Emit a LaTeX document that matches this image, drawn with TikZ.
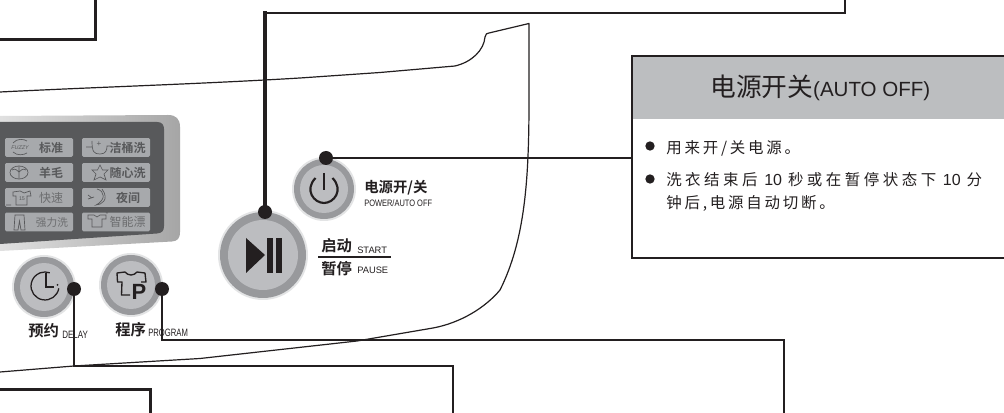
\documentclass[tikz,border=0pt]{standalone}
\usepackage{fontspec}
\setmainfont{Liberation Sans}
\newfontfamily\cjk{Noto Sans CJK SC}
\newfontfamily\cjksp[LetterSpace=18]{Noto Sans CJK SC}
\newfontfamily\cjkspw[LetterSpace=22.6]{Noto Sans CJK SC}
\newfontfamily\cjkb{Noto Sans CJK SC Bold}
\newcommand{\nar}[2]{\scalebox{#1}[1]{#2}}
\newcommand{\ten}{{\rmfamily\fontsize{12pt}{12pt}\selectfont\hspace{5pt}10\hspace{4.5pt}}}
\definecolor{ink}{HTML}{231F20}
\definecolor{headgray}{HTML}{BCBEC0}
\definecolor{btn}{HTML}{BCBDC0}
\definecolor{btnring}{HTML}{98999C}
\definecolor{halo}{HTML}{E3E4E5}
\definecolor{panel}{HTML}{58595B}
\definecolor{key}{HTML}{A7A9AC}
\definecolor{keytext}{HTML}{58595B}
\tikzset{
  wire/.style={draw=ink,line width=2.1pt},
  thinwire/.style={draw=ink,line width=1.5pt},
  outline/.style={draw=ink,line width=0.9pt},
  dotmark/.style={circle,fill=ink,inner sep=0pt,minimum size=10.5pt},
  bullet/.style={circle,fill=ink,inner sep=0pt,minimum size=7pt},
  keybox/.style={rectangle,rounded corners=1pt,fill=key,inner sep=0pt,minimum width=51pt,minimum height=14pt},
  keylab/.style={inner sep=0pt,text=keytext,font=\cjkb\fontsize{9pt}{9pt}\selectfont},
  keylabl/.style={inner sep=0pt,text=keytext!75!key,font=\cjk\fontsize{9pt}{9pt}\selectfont},
  ico/.style={draw=keytext,line width=0.5pt,fill=none},
  lab/.style={inner sep=0pt,anchor=west,text=ink},
  bcjk/.style={lab,font=\cjkb\fontsize{11.5pt}{12pt}\selectfont},
  smalllat/.style={lab,font=\fontsize{7pt}{8pt}\selectfont},
  body/.style={lab,font=\cjksp\fontsize{11.6pt}{12pt}\selectfont},
  bodyw/.style={lab,font=\cjkspw\fontsize{11.6pt}{12pt}\selectfont},
}
\begin{document}
\begin{tikzpicture}[x=0.75pt,y=-0.75pt]
\useasboundingbox (0,0) rectangle (1004,413);
\fill[white] (0,0) rectangle (1004,413);
% panel outline
\draw[outline,line join=round] (0,92) .. controls (100,87) and (200,84) .. (300,78) -- (380,72.5) -- (455,66)
  .. controls (472,62) and (484,50) .. (485,37) .. controls (485.5,34) and (487,33) .. (489,33) -- (529,23.5)
  -- (529,100) .. controls (529,180) and (525,240) .. (500,290)
  .. controls (485,308) and (460,323) .. (433,328) -- (357,341) -- (200,358.5) -- (74,366) -- (0,372);
% gray band + dark panel
\shade[left color=black!12,right color=black!35] (0,116) -- (168,115) .. controls (176,115) and (180,119) .. (180,127) -- (180,232) .. controls (180,239) and (177,241) .. (172,241.5) -- (0,251) -- cycle;
\fill[panel] (0,122) -- (157,122) .. controls (162,122) and (164,125) .. (164,129) -- (164,226) .. controls (164,231) and (162,233) .. (157,233.5) -- (0,244) -- cycle;
% keys
\node[keybox] (k1) at (39,147.5) {};
\node[keybox] (k2) at (116,147.5) {};
\node[keybox] (k3) at (39,172.5) {};
\node[keybox] (k4) at (116,172.5) {};
\node[keybox] (k5) at (39,197.5) {};
\node[keybox] (k6) at (116,197.5) {};
\node[keybox] (k7) at (39,222) {};
\node[keybox] (k8) at (116,222) {};
\node[keylab] (t1k) at (51,147.5) {标准};
\node[keylab] (t2k) at (127.5,147.5) {洁桶洗};
\node[keylab] (t3k) at (51,172.5) {羊毛};
\node[keylab] (t4k) at (127.5,172.5) {随心洗};
\node[keylabl] (t5k) at (51,197.5) {快速};
\node[keylab] (t6k) at (128,197.5) {夜间};
\node[keylabl,font=\cjk\fontsize{8pt}{8pt}\selectfont] (t7k) at (52,222) {强力洗};
\node[keylabl] (t8k) at (127.5,222) {智能漂};
% key icons
\node[inner sep=0pt,text=keytext,font=\itshape\fontsize{4pt}{4pt}\selectfont] (fz) at (20,147.5) {FUZZY};
\draw[ico] (13,143) .. controls (17,138) and (24,139) .. (27,141);
\draw[ico] (13,152) .. controls (17,156) and (24,155) .. (27,153);
\draw[ico] (19,172.5) ellipse (9 and 6.5);
\draw[ico] (19,166) -- (19,179) (12,170) .. controls (15,168) and (17,170) .. (19,172) (26,170) .. controls (23,168) and (21,170) .. (19,172);
\draw[ico] (6,205) -- (11,205) (13,192) -- (20,191) -- (24,193) -- (30,191) -- (31,196) -- (27,196) -- (27,205) -- (16,205) -- (16,196) -- (13,196) -- cycle;
\node[inner sep=0pt,text=keytext,font=\fontsize{4pt}{4pt}\selectfont] (q15) at (22,199) {15};
\draw[ico] (15,215) -- (24,215) -- (25,230) -- (21,230) -- (19.5,221) -- (18,230) -- (14,230) -- cycle;
\draw[ico] (86,147) -- (92,147) (92,141) .. controls (92,152) and (94,154) .. (100,154) .. controls (106,154) and (107,150) .. (107,146) -- (110,146);
\node[inner sep=0pt,text=keytext,font=\fontsize{6pt}{6pt}\selectfont] (qp) at (99,144) {+};
\draw[ico] (100,165) -- (102.5,170) -- (108,170) -- (104,174) -- (106,180) -- (100,177) -- (94,180) -- (96,174) -- (92,170) -- (97.5,170) -- cycle;
\draw[ico] (97,189) .. controls (105,191) and (106,200) .. (96,205) .. controls (101,205) and (110,200) .. (102,189);
\draw[ico] (88,199) -- (94,197) (88,195) -- (92,198);
\draw[ico] (88,215) -- (94,215) -- (97,217) -- (100,215) -- (106,215) -- (106,219) -- (102,219) -- (102,227) -- (92,227) -- (92,219) -- (88,219) -- cycle;
\node[inner sep=0pt,text=keytext,font=\fontsize{4pt}{4pt}\selectfont] (qs) at (107,213) {\textasteriskcentered};
% buttons
\foreach \n/\x/\y/\r/\i in {bd/44/287/32/24, bp/131/285/32/24, bw/324/189/32/24, bs/263/255/45/35}{
  \fill[halo] (\x,\y) circle (\r);
  \fill[btnring] (\x,\y) circle ({\r-2});
  \fill[btn] (\x,\y) circle (\i);
}
% clock icon
\draw[ink,line width=0.95pt] (58.8,288.4) arc[start angle=10,end angle=290,radius=14];
\draw[ink,line width=0.95pt] (46,273) -- (46,287) -- (54,287);
\fill[ink] (57.5,285) circle (1);
% shirt P icon
\draw[ink,line width=1pt,line join=round] (130,295) -- (121.5,295) -- (122,282) -- (117.5,282) -- (117,273) -- (125,272) .. controls (128,276) and (134,276) .. (137,272) -- (145,273) -- (146,282) -- (141,282);
\node[inner sep=0pt,font=\bfseries\fontsize{16.5pt}{16.5pt}\selectfont,text=ink] (pp) at (139,292) {P};
% power icon
\draw[ink,line width=1.6pt] (324,173) -- (324,190);
\draw[ink,line width=1.6pt] (315.5,178) .. controls (304,190) and (314,203) .. (324,203) .. controls (334,203) and (344,190) .. (332.5,178);
% play/pause icon
\fill[ink] (246,238) -- (265,255) -- (246,273) -- cycle;
\fill[ink] (267,238) rectangle (273,273);
\fill[ink] (276,238) rectangle (282,273);
% labels
\node[bcjk] (t1) at (28,330.5) {预约};
\node[smalllat,font=\fontsize{8pt}{8pt}\selectfont] (t1b) at (62,335) {\nar{0.75}{DELAY}};
\node[bcjk] (t2) at (115,329.5) {程序};
\node[smalllat,font=\fontsize{8pt}{8pt}\selectfont] (t2b) at (148,333) {\nar{0.72}{PROGRAM}};
\node[bcjk,font=\cjkb\fontsize{10.8pt}{12pt}\selectfont] (t3) at (364,187.5) {电源开/关};
\node[smalllat] (t3b) at (364,203) {\nar{0.8}{POWER/AUTO OFF}};
\node[bcjk] (t4) at (321,245.5) {启动};
\node[smalllat] (t4b) at (357,250) {START};
\node[bcjk] (t5) at (321,268.5) {暂停};
\node[smalllat] (t5b) at (357,270.5) {PAUSE};
\draw[ink,line width=0.95pt] (318,257) -- (391,257);
% box
\fill[headgray] (632,56) rectangle (1004,119);
\draw[draw=ink,line width=1.6pt] (1004,56) -- (632,56);
\draw[draw=ink,line width=1.6pt] (632,258) -- (1004,258);
\draw[draw=ink,line width=2pt] (632,55) -- (632,259);
\node[lab,font=\fontsize{15.4pt}{18pt}\selectfont] (title) at (710,88) {{\cjk\fontsize{19.3pt}{20pt}\selectfont 电源开关}(AUTO OFF)};
\node[bullet] (b1) at (650,146) {};
\node[bullet] (b2) at (650,179) {};
\node[body] (l1) at (666,148.5) {用来开/关电源。};
\node[bodyw] (l2) at (666,179.5) {洗衣结束后\ten 秒或在暂停状态下\ten 分};
\node[body] (l3) at (666,203.5) {钟后,电源自动切断。};
% connectors
\node[dotmark] (dp) at (265,212) {};
\node[dotmark] (dw) at (326,158) {};
\node[dotmark] (dd) at (74,289) {};
\node[dotmark] (dg) at (162,289) {};
\coordinate (e1) at (845,0);
\coordinate (e2) at (453,413);
\coordinate (e3) at (784,413);
\coordinate (ebox) at (632,158);
\coordinate (c1) at (265,13);
\draw[draw=ink,line width=2.7pt,line cap=rect] (dp) -- (c1);
\draw[draw=ink,line width=1.7pt] (c1) -| (e1);
\draw[thinwire,line width=1.2pt] (dw) -- (ebox);
\draw[wire] (dd) |- (e2 |- 0,366) -- (e2);
\draw[thinwire] (dg) |- (e3 |- 0,340) -- (e3);
\draw[thinwire,line width=1.8pt] (0,39.5) -- (95.5,39.5) -- (95.5,0);
\draw[wire,line width=2pt] (0,389.5) -- (150.5,389.5) -- (150.5,413);
\end{tikzpicture}
\end{document}
